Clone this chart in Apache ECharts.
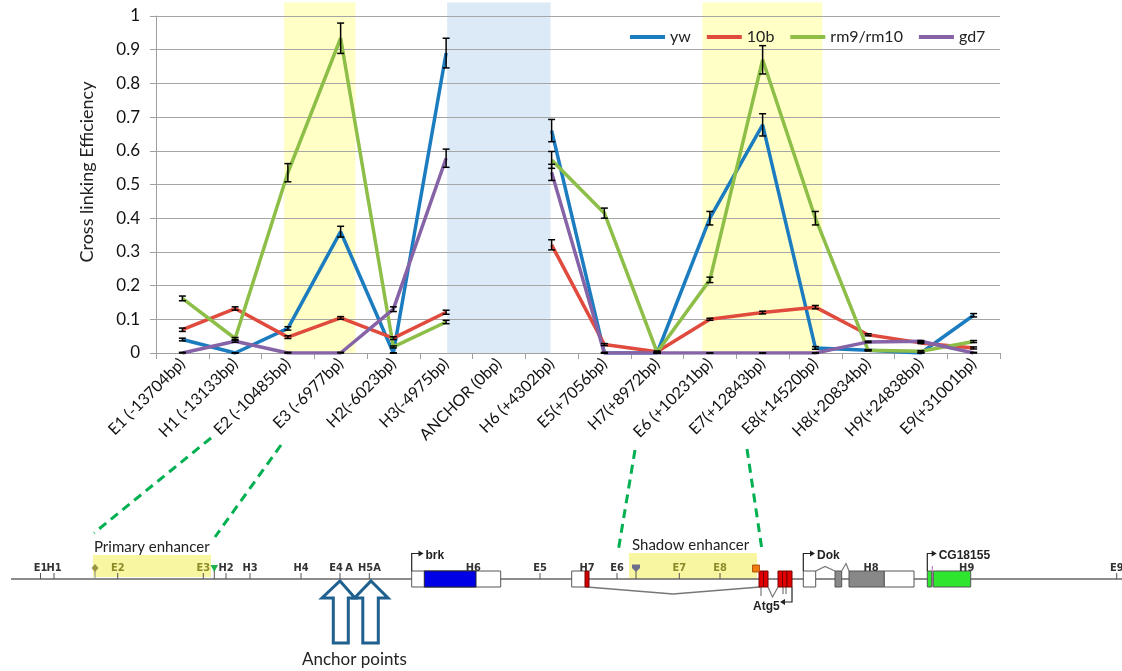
<!DOCTYPE html>
<html>
<head>
<meta charset="utf-8">
<script src="https://cdn.jsdelivr.net/npm/echarts@6/dist/echarts.min.js"></script>
<style>
html,body{margin:0;padding:0;background:#fff;}
#main{width:1122px;height:671px;}
</style>
</head>
<body>
<div id="main"></div>
<script>
// probe positions, relative to the anchor
const categories = ['E1 (-13704bp)', 'H1 (-13133bp)', 'E2 (-10485bp)', 'E3 (-6977bp)', 'H2(-6023bp)', 'H3(-4975bp)',
  'ANCHOR (0bp)', 'H6 (+4302bp)', 'E5(+7056bp)', 'H7(+8972bp)', 'E6 (+10231bp)', 'E7(+12843bp)', 'E8(+14520bp)',
  'H8(+20834bp)', 'H9(+24838bp)', 'E9(+31001bp)'];
const seriesNames = ['yw', '10b', 'rm9/rm10', 'gd7'];

// cross linking efficiency per probe (null = anchor itself)
const ywValues  = [0.04, 0, 0.073, 0.36, 0, 0.89, null, 0.66, 0, 0, 0.40, 0.677, 0.015, 0.008, 0, 0.112];
const b10Values = [0.069, 0.132, 0.047, 0.104, 0.044, 0.121, null, 0.321, 0.025, 0.004, 0.10, 0.12, 0.136, 0.054, 0.03, 0.015];
const rmValues  = [0.162, 0.043, 0.535, 0.934, 0.018, 0.092, null, 0.573, 0.415, 0.002, 0.217, 0.87, 0.40, 0.008, 0.005, 0.034];
const gd7Values = [0, 0.035, 0, 0, 0.13, 0.578, null, 0.536, 0, 0, 0, 0, 0, 0.033, 0.035, 0];

// error bar half widths
const ywErr  = [0.004, 0, 0.005, 0.016, 0, 0.044, null, 0.033, 0, 0, 0.02, 0.033, 0.004, 0, 0, 0.005];
const b10Err = [0.005, 0.005, 0.004, 0.004, 0.004, 0.006, null, 0.015, 0.003, 0.002, 0.003, 0.004, 0.005, 0.003, 0.002, 0.003];
const rmErr  = [0.007, 0.003, 0.027, 0.045, 0.003, 0.005, null, 0.025, 0.015, 0.002, 0.008, 0.042, 0.02, 0.002, 0.002, 0.003];
const gd7Err = [0.002, 0.003, 0.002, 0.002, 0.007, 0.027, null, 0.024, 0.002, 0, 0, 0, 0, 0.002, 0.002, 0.002];

// highlighted stretches, in category units (start, end)
const bandStarts = [2.43, 5.52, 10.36];
const bandEnds   = [3.78, 7.48, 12.63];
const bandTop = 1.04;

const colors = ['#1C7CC0', '#E04B3E', '#8DBE47', '#8663A6'];
const bandColors = ['#FFFFC6', '#DCE9F6', '#FFFFC6'];
const allValues = [ywValues, b10Values, rmValues, gd7Values];
const allErr = [ywErr, b10Err, rmErr, gd7Err];

var myChart = echarts.init(document.getElementById('main'));

const lineSeries = seriesNames.map((name, k) => ({
  name: name,
  type: 'line',
  data: allValues[k],
  symbol: 'none',
  connectNulls: false,
  lineStyle: { width: 3.5, color: colors[k] },
  itemStyle: { color: colors[k] },
  z: 3 + k
}));

const errSeries = allErr.map((err, k) => ({
  type: 'custom',
  silent: true,
  z: 8,
  encode: { x: 0, y: [1, 2] },
  data: err.map((e, i) => e == null ? [i, null, null] : [i, allValues[k][i] - e, allValues[k][i] + e]),
  renderItem: function (params, api) {
    if (api.value(1) == null || isNaN(api.value(1))) return null;
    const lo = api.coord([api.value(0), Math.max(0, api.value(1))]);
    const hi = api.coord([api.value(0), api.value(2)]);
    const st = { stroke: '#000', lineWidth: 1.5 };
    return {
      type: 'group',
      children: [
        { type: 'line', shape: { x1: lo[0], y1: lo[1], x2: hi[0], y2: hi[1] }, style: st },
        { type: 'line', shape: { x1: lo[0] - 3.5, y1: lo[1], x2: lo[0] + 3.5, y2: lo[1] }, style: st },
        { type: 'line', shape: { x1: hi[0] - 3.5, y1: hi[1], x2: hi[0] + 3.5, y2: hi[1] }, style: st }
      ]
    };
  }
}));

const bandSeries = {
  type: 'custom',
  xAxisIndex: 1,
  silent: true,
  clip: false,
  z: -1,
  data: bandStarts.map((s, i) => [s, bandEnds[i]]),
  renderItem: function (params, api) {
    const p0 = api.coord([api.value(0), bandTop]);
    const p1 = api.coord([api.value(1), 0]);
    return {
      type: 'rect',
      shape: { x: p0[0], y: p0[1], width: p1[0] - p0[0], height: p1[1] - p0[1] },
      style: { fill: bandColors[params.dataIndex] }
    };
  }
};

// ---- gene map below the chart ----
const g = [];
const TRACK_Y = 579;
const narrow = '"Liberation Sans Narrow", "DejaVu Sans Condensed", sans-serif';
function txt(t, x, y, font, fill, align) {
  g.push({ type: 'text', x: x, y: y, z: 20,
    style: { text: t, font: font, fill: fill || '#222', align: align || 'center', textAlign: align || 'center',
      verticalAlign: 'middle', textVerticalAlign: 'middle' } });
}
function ln(x1, y1, x2, y2, stroke, w, dash) {
  g.push({ type: 'line', z: 12, shape: { x1, y1, x2, y2 }, style: { stroke: stroke, lineWidth: w || 1, lineDash: dash || null } });
}
function box(x1, x2, fill, stroke, y1, y2) {
  g.push({ type: 'rect', z: 14, shape: { x: x1, y: y1 || 571, width: x2 - x1, height: (y2 || 587) - (y1 || 571) },
    style: { fill: fill, stroke: stroke || '#555', lineWidth: 1 } });
}
function probe(label, x, color, lx) {
  ln(x, 573, x, TRACK_Y, '#555', 1);
  txt(label, lx == null ? x : lx, 568, 'bold 11px ' + narrow, color || '#333');
}
function geneArrow(x, xEnd, name) {
  g.push({ type: 'polyline', z: 15, shape: { points: [[x, 571], [x, 553.5], [xEnd - 4, 553.5]] }, style: { stroke: '#222', lineWidth: 1.2, fill: null } });
  g.push({ type: 'polygon', z: 15, shape: { points: [[xEnd - 5, 550.5], [xEnd, 553.5], [xEnd - 5, 556.5]] }, style: { fill: '#222' } });
  txt(name, xEnd + 2, 556, 'bold 12px "Liberation Sans", sans-serif', '#222', 'left');
}

// enhancer highlight boxes
g.push({ type: 'rect', z: 10, shape: { x: 93, y: 555, width: 118, height: 22 }, style: { fill: '#F8F6A0' } });
g.push({ type: 'rect', z: 10, shape: { x: 629, y: 553, width: 128, height: 25.5 }, style: { fill: '#F8F6A0' } });
txt('Primary enhancer', 94, 547, '15px Lato', '#222', 'left');
txt('Shadow enhancer', 632, 545, '15px Lato', '#222', 'left');

// dashed connectors from the chart to the map
const dash = [9, 6];
ln(211, 438, 94, 533, '#00B050', 3, dash);
ln(281, 445, 215, 537, '#00B050', 3, dash);
ln(635, 450, 618, 552, '#00B050', 3, dash);
ln(747, 449, 762, 550, '#00B050', 3, dash);

// genomic line
ln(11, TRACK_Y, 1122, TRACK_Y, '#666', 1.5);

const olive = '#8C8A2A';
probe('E1', 40.5); probe('H1', 54);
probe('E2', 117.7, olive); probe('E3', 203.3, olive);
probe('H2', 226); probe('H3', 250); probe('H4', 301);
probe('E4', 340, null, 336); txt('A', 349, 568, 'bold 11px ' + narrow, '#333');
probe('H5', 369.3, null, 365.5); txt('A', 377, 568, 'bold 11px ' + narrow, '#333');
probe('E5', 540); probe('E6', 617);
probe('E7', 679.3, olive); probe('E8', 720, olive);
probe('E9', 1116.7);
// small site markers
ln(95, 568, 95, TRACK_Y, '#888', 1);
g.push({ type: 'polygon', z: 16, shape: { points: [[95, 564], [98.5, 568], [95, 572], [91.5, 568]] }, style: { fill: '#9A9440' } });
ln(214.3, 568, 214.3, TRACK_Y, '#555', 1);
g.push({ type: 'polygon', z: 16, shape: { points: [[210.5, 565], [218, 565], [214.3, 572]] }, style: { fill: '#1FB24A' } });
ln(636, 568, 636, TRACK_Y, '#555', 1);
g.push({ type: 'polygon', z: 16, shape: { points: [[632, 564.5], [640, 564.5], [640, 568], [636, 572], [632, 568]] }, style: { fill: '#6E6E8A' } });
g.push({ type: 'rect', z: 16, shape: { x: 752.5, y: 565, width: 7, height: 7 }, style: { fill: '#F07A10', stroke: '#A04000', lineWidth: 0.8 } });

// brk
box(411.7, 500.7, '#fff');
box(424.3, 476, '#0000E6', '#223');
geneArrow(411.7, 423.5, 'brk');
txt('H6', 473.3, 568, 'bold 11px ' + narrow, '#333');

// Atg5 region
box(571.7, 587, '#fff');
box(585, 589, '#D00000', '#700');
txt('H7', 587, 568, 'bold 11px ' + narrow, '#333');
g.push({ type: 'polyline', z: 12, shape: { points: [[587, 587], [673, 594], [760, 587]] }, style: { stroke: '#777', lineWidth: 1.5, fill: null } });
box(759, 763.5, '#E00000', '#700');
box(763.5, 768, '#E00000', '#700');
box(778, 782.5, '#E00000', '#700');
box(782.5, 787, '#E00000', '#700');
box(787, 792, '#E00000', '#700');
g.push({ type: 'polyline', z: 12, shape: { points: [[768, 587], [772.5, 597], [778, 587]] }, style: { stroke: '#777', lineWidth: 1.2, fill: null } });
ln(761, 587, 761, 596, '#777', 1.2);
ln(783, 587, 783, 594, '#777', 1.2);
ln(786, 587, 786, 594, '#777', 1.2);
g.push({ type: 'polyline', z: 15, shape: { points: [[792, 587], [792, 602], [784, 602]] }, style: { stroke: '#222', lineWidth: 1.2, fill: null } });
g.push({ type: 'polygon', z: 15, shape: { points: [[785, 599], [780, 602], [785, 605]] }, style: { fill: '#222' } });
txt('Atg5', 753, 606.5, 'bold 12px "Liberation Sans", sans-serif', '#222', 'left');

// Dok
box(803.3, 815.7, '#fff');
ln(812.5, 571, 812.5, 587, '#444', 2.5);
g.push({ type: 'polyline', z: 12, shape: { points: [[815.7, 571], [825, 566.5], [835, 571]] }, style: { stroke: '#777', lineWidth: 1.2, fill: null } });
box(835, 841.7, '#888');
g.push({ type: 'polyline', z: 12, shape: { points: [[841.7, 571], [846, 563.5], [849, 571]] }, style: { stroke: '#777', lineWidth: 1.2, fill: null } });
box(849, 884.3, '#888');
box(884.3, 914, '#fff');
geneArrow(803.3, 815, 'Dok');
probe('H8', 871, '#333');

// CG18155
box(927.3, 931.7, '#2EE62E');
ln(932.3, 566, 932.3, 587, '#C080C0', 1.2);
box(933.3, 970.7, '#2EE62E');
geneArrow(927.3, 936.7, 'CG18155');
probe('H9', 966.7, '#333');

// anchor point arrows
function upArrow(tip, head0, head1, sh0, sh1) {
  g.push({ type: 'polygon', z: 16, shape: { points: [[tip, 581], [head1, 598], [sh1, 598], [sh1, 643], [sh0, 643], [sh0, 598], [head0, 598]] },
    style: { fill: '#fff', stroke: '#20608F', lineWidth: 3, lineJoin: 'miter' } });
}
upArrow(340, 322, 355, 333.3, 348.3);
upArrow(371, 354.5, 388, 362.8, 378.3);
txt('Anchor points', 302, 660, '17px Lato', '#222', 'left');

// y axis title
g.push({ type: 'text', x: 87, y: 172, rotation: Math.PI / 2, z: 20,
  style: { text: 'Cross linking Efficiency', font: '18px Lato', fill: '#222', align: 'center', textAlign: 'center', verticalAlign: 'middle', textVerticalAlign: 'middle' } });

myChart.setOption({
  animation: false,
  backgroundColor: '#fff',
  grid: { left: 156, right: 122, top: 16, bottom: 318 },
  legend: {
    data: seriesNames,
    left: 625,
    top: 24,
    icon: 'rect',
    itemWidth: 35,
    itemHeight: 4,
    itemGap: 16,
    textStyle: { fontSize: 16, fontFamily: 'Lato', color: '#222' }
  },
  xAxis: [
    {
      type: 'category',
      data: categories,
      boundaryGap: true,
      axisLine: { lineStyle: { color: '#a0a0a0', width: 1 } },
      axisTick: { show: true, length: 6, lineStyle: { color: '#a0a0a0' } },
      axisLabel: { interval: 0, rotate: 45, margin: 8, fontSize: 16, fontFamily: 'Lato', color: '#111' }
    },
    { type: 'value', min: 0, max: 16, show: false }
  ],
  yAxis: {
    type: 'value',
    min: 0,
    max: 1,
    interval: 0.1,
    axisLine: { show: true, lineStyle: { color: '#a0a0a0', width: 1 } },
    axisTick: { show: true, length: 6, lineStyle: { color: '#a0a0a0' } },
    splitLine: { lineStyle: { color: '#a6a6a6', width: 1 } },
    axisLabel: { margin: 16, fontSize: 17, fontFamily: 'Lato', color: '#111',
      formatter: v => String(Math.round(v * 10) / 10) }
  },
  graphic: g,
  series: [bandSeries].concat(lineSeries, errSeries)
});
</script>
</body>
</html>
